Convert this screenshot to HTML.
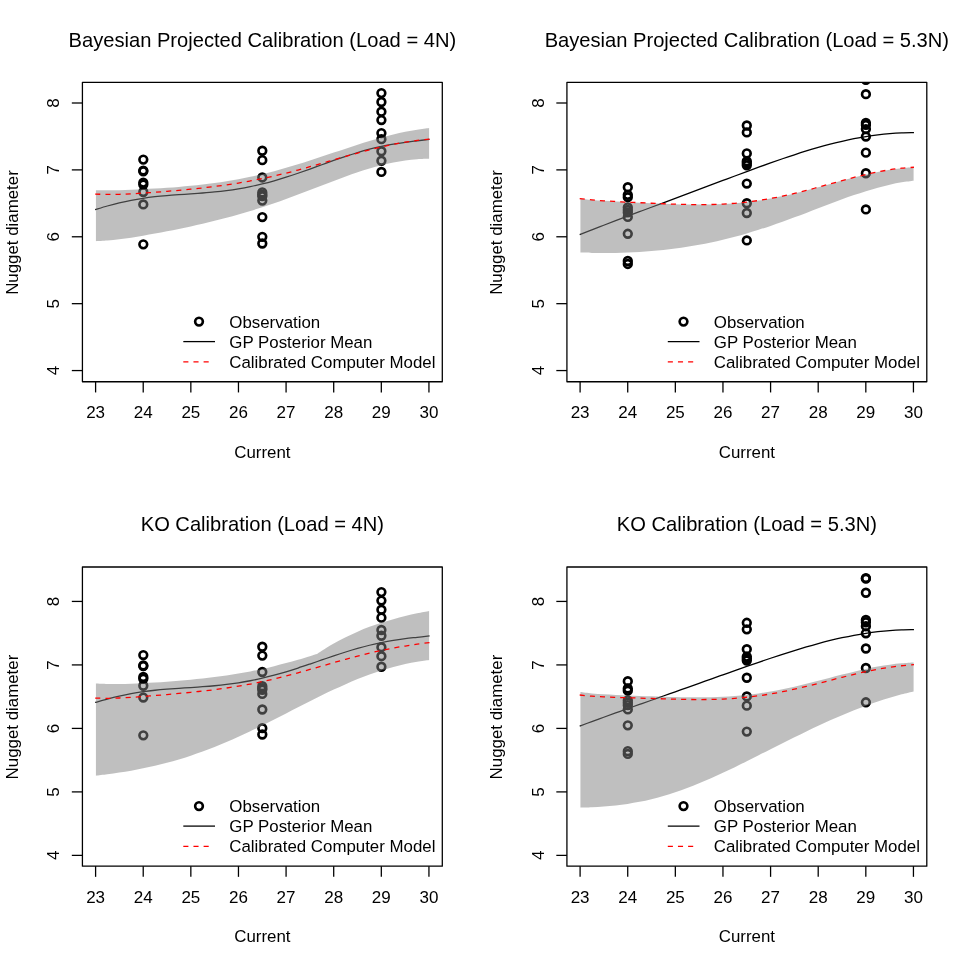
<!DOCTYPE html><html><head><meta charset="utf-8"><title>Calibration plots</title><style>
html,body{margin:0;padding:0;background:#fff;}
svg{display:block;will-change:transform;}
text{font-family:"Liberation Sans",sans-serif;fill:#000;}
.ax{font-size:17.00px;}
.tt{font-size:20.14px;}
.lg{font-size:16.86px;}
.pt{fill:none;stroke:#000;stroke-width:2.65;}
.sl{fill:none;stroke:#000;stroke-width:1.28;}
.dl{fill:none;stroke:#f00;stroke-width:1.28;stroke-dasharray:5.1 5.05;}
.bd{fill:rgba(127,127,127,0.5);stroke:none;}
.bx{fill:none;stroke:#000;stroke-width:1.28;stroke-linejoin:round;}
.tk{stroke:#000;stroke-width:1.28;}
</style></head><body>
<svg width="969" height="969" viewBox="0 0 969 969">
<rect width="969" height="969" fill="#fff"/>
<g transform="translate(0.00,0.00)">
<clipPath id="cp0"><rect x="82.42" y="82.30" width="359.88" height="299.45"/></clipPath>
<g clip-path="url(#cp0)">
<circle cx="143.30" cy="159.60" r="3.85" class="pt"/>
<circle cx="143.30" cy="170.57" r="3.85" class="pt"/>
<circle cx="143.30" cy="171.24" r="3.85" class="pt"/>
<circle cx="143.30" cy="182.61" r="3.85" class="pt"/>
<circle cx="143.30" cy="184.62" r="3.85" class="pt"/>
<circle cx="143.30" cy="191.98" r="3.85" class="pt"/>
<circle cx="143.30" cy="204.42" r="3.85" class="pt"/>
<circle cx="143.30" cy="244.36" r="3.85" class="pt"/>
<circle cx="262.30" cy="150.77" r="3.85" class="pt"/>
<circle cx="262.30" cy="160.13" r="3.85" class="pt"/>
<circle cx="262.30" cy="177.46" r="3.85" class="pt"/>
<circle cx="262.30" cy="192.38" r="3.85" class="pt"/>
<circle cx="262.30" cy="194.65" r="3.85" class="pt"/>
<circle cx="262.30" cy="196.19" r="3.85" class="pt"/>
<circle cx="262.30" cy="200.61" r="3.85" class="pt"/>
<circle cx="262.30" cy="217.06" r="3.85" class="pt"/>
<circle cx="262.30" cy="236.80" r="3.85" class="pt"/>
<circle cx="262.30" cy="243.49" r="3.85" class="pt"/>
<circle cx="381.40" cy="93.10" r="3.85" class="pt"/>
<circle cx="381.40" cy="102.00" r="3.85" class="pt"/>
<circle cx="381.40" cy="111.70" r="3.85" class="pt"/>
<circle cx="381.40" cy="120.06" r="3.85" class="pt"/>
<circle cx="381.40" cy="133.11" r="3.85" class="pt"/>
<circle cx="381.40" cy="139.19" r="3.85" class="pt"/>
<circle cx="381.40" cy="151.23" r="3.85" class="pt"/>
<circle cx="381.40" cy="160.73" r="3.85" class="pt"/>
<circle cx="381.40" cy="171.91" r="3.85" class="pt"/>
<path d="M95.21,209.61 C97.23,209.01 103.31,207.12 107.32,206.00 C111.32,204.88 115.26,203.83 119.24,202.88 C123.21,201.94 127.18,201.07 131.15,200.30 C135.12,199.54 139.10,198.87 143.07,198.27 C147.04,197.67 151.02,197.18 154.99,196.73 C158.96,196.27 162.93,195.91 166.91,195.57 C170.88,195.22 174.85,194.94 178.82,194.66 C182.79,194.37 186.77,194.13 190.74,193.85 C194.71,193.58 198.69,193.32 202.66,193.01 C206.63,192.69 210.60,192.37 214.58,191.97 C218.55,191.58 222.52,191.14 226.49,190.63 C230.47,190.12 234.44,189.55 238.41,188.89 C242.38,188.23 246.36,187.50 250.33,186.69 C254.30,185.87 258.27,184.97 262.25,183.99 C266.22,183.02 270.19,181.95 274.16,180.82 C278.14,179.69 282.11,178.47 286.08,177.21 C290.05,175.95 294.02,174.61 298.00,173.25 C301.97,171.89 305.94,170.47 309.92,169.05 C313.89,167.63 317.86,166.16 321.83,164.73 C325.80,163.29 329.78,161.84 333.75,160.44 C337.72,159.04 341.69,157.65 345.67,156.33 C349.64,155.02 353.61,153.73 357.59,152.55 C361.56,151.36 365.53,150.23 369.50,149.20 C373.48,148.17 377.45,147.23 381.42,146.37 C385.39,145.52 389.36,144.77 393.34,144.09 C397.31,143.41 401.28,142.83 405.25,142.29 C409.23,141.74 413.14,141.30 417.17,140.81 C421.21,140.32 427.42,139.58 429.47,139.33" class="sl"/>
<path d="M95.92,190.20 C97.82,190.23 103.43,190.36 107.32,190.36 C111.20,190.36 115.26,190.29 119.24,190.20 C123.21,190.11 127.18,189.97 131.15,189.82 C135.12,189.66 139.10,189.48 143.07,189.28 C147.04,189.08 151.02,188.85 154.99,188.61 C158.96,188.37 162.93,188.11 166.91,187.83 C170.88,187.54 174.85,187.24 178.82,186.91 C182.79,186.58 186.77,186.23 190.74,185.83 C194.71,185.44 198.69,185.03 202.66,184.56 C206.63,184.10 210.60,183.61 214.58,183.06 C218.55,182.52 222.52,181.93 226.49,181.29 C230.47,180.66 234.44,179.97 238.41,179.23 C242.38,178.49 246.36,177.71 250.33,176.86 C254.30,176.02 258.27,175.12 262.25,174.17 C266.22,173.22 270.19,172.21 274.16,171.16 C278.14,170.11 282.11,169.01 286.08,167.86 C290.05,166.72 294.02,165.53 298.00,164.30 C301.97,163.08 305.94,161.82 309.92,160.54 C313.89,159.25 317.86,157.94 321.83,156.62 C325.80,155.30 329.78,153.95 333.75,152.62 C337.72,151.29 341.69,149.95 345.67,148.64 C349.64,147.32 353.61,146.01 357.59,144.74 C361.56,143.48 365.53,142.23 369.50,141.04 C373.48,139.85 377.45,138.69 381.42,137.61 C385.39,136.52 389.36,135.48 393.34,134.53 C397.31,133.57 401.28,132.68 405.25,131.87 C409.23,131.06 413.20,130.33 417.17,129.68 C421.15,129.03 427.10,128.26 429.09,127.98 L429.09,158.87 C427.10,158.92 421.15,158.95 417.17,159.21 C413.20,159.47 409.23,159.89 405.25,160.43 C401.28,160.97 397.31,161.66 393.34,162.46 C389.36,163.25 385.39,164.18 381.42,165.19 C377.45,166.21 373.48,167.34 369.50,168.53 C365.53,169.72 361.56,171.02 357.59,172.35 C353.61,173.68 349.64,175.09 345.67,176.53 C341.69,177.96 337.72,179.45 333.75,180.95 C329.78,182.44 325.80,183.98 321.83,185.50 C317.86,187.02 313.89,188.56 309.92,190.08 C305.94,191.60 301.97,193.12 298.00,194.61 C294.02,196.10 290.05,197.58 286.08,199.02 C282.11,200.45 278.14,201.87 274.16,203.24 C270.19,204.61 266.22,205.95 262.25,207.24 C258.27,208.54 254.30,209.79 250.33,211.00 C246.36,212.22 242.38,213.39 238.41,214.52 C234.44,215.65 230.47,216.74 226.49,217.79 C222.52,218.84 218.55,219.86 214.58,220.84 C210.60,221.83 206.63,222.77 202.66,223.69 C198.69,224.62 194.71,225.51 190.74,226.38 C186.77,227.24 182.79,228.09 178.82,228.91 C174.85,229.74 170.88,230.54 166.91,231.32 C162.93,232.10 158.96,232.86 154.99,233.60 C151.02,234.34 147.04,235.06 143.07,235.74 C139.10,236.42 135.12,237.08 131.15,237.68 C127.18,238.28 123.21,238.85 119.24,239.33 C115.26,239.81 111.20,240.26 107.32,240.57 C103.43,240.87 97.82,241.07 95.92,241.17 Z" class="bd"/>
<path d="M95.21,194.06 C97.23,194.12 103.31,194.39 107.32,194.43 C111.32,194.47 115.26,194.38 119.24,194.28 C123.21,194.17 127.18,193.99 131.15,193.79 C135.12,193.60 139.10,193.35 143.07,193.10 C147.04,192.84 151.02,192.56 154.99,192.26 C158.96,191.97 162.93,191.66 166.91,191.33 C170.88,191.00 174.85,190.66 178.82,190.30 C182.79,189.94 186.77,189.57 190.74,189.17 C194.71,188.77 198.69,188.36 202.66,187.91 C206.63,187.46 210.60,187.00 214.58,186.49 C218.55,185.98 222.52,185.45 226.49,184.88 C230.47,184.30 234.44,183.69 238.41,183.04 C242.38,182.38 246.36,181.69 250.33,180.95 C254.30,180.21 258.27,179.43 262.25,178.60 C266.22,177.77 270.19,176.90 274.16,175.98 C278.14,175.07 282.11,174.11 286.08,173.11 C290.05,172.12 294.02,171.08 298.00,170.02 C301.97,168.95 305.94,167.85 309.92,166.73 C313.89,165.62 317.86,164.47 321.83,163.32 C325.80,162.18 329.78,161.00 333.75,159.85 C337.72,158.69 341.69,157.52 345.67,156.39 C349.64,155.25 353.61,154.11 357.59,153.02 C361.56,151.93 365.53,150.85 369.50,149.84 C373.48,148.82 377.45,147.84 381.42,146.92 C385.39,146.01 389.36,145.14 393.34,144.35 C397.31,143.56 401.28,142.83 405.25,142.19 C409.23,141.54 413.14,140.97 417.17,140.47 C421.21,139.97 427.42,139.40 429.47,139.19" class="dl"/>
</g>
<rect x="82.42" y="82.30" width="359.88" height="299.45" class="bx"/>
<line x1="95.60" y1="381.75" x2="95.60" y2="392.45" class="tk"/>
<text x="95.60" y="418.00" class="ax" text-anchor="middle">23</text>
<line x1="143.22" y1="381.75" x2="143.22" y2="392.45" class="tk"/>
<text x="143.22" y="418.00" class="ax" text-anchor="middle">24</text>
<line x1="190.84" y1="381.75" x2="190.84" y2="392.45" class="tk"/>
<text x="190.84" y="418.00" class="ax" text-anchor="middle">25</text>
<line x1="238.46" y1="381.75" x2="238.46" y2="392.45" class="tk"/>
<text x="238.46" y="418.00" class="ax" text-anchor="middle">26</text>
<line x1="286.08" y1="381.75" x2="286.08" y2="392.45" class="tk"/>
<text x="286.08" y="418.00" class="ax" text-anchor="middle">27</text>
<line x1="333.70" y1="381.75" x2="333.70" y2="392.45" class="tk"/>
<text x="333.70" y="418.00" class="ax" text-anchor="middle">28</text>
<line x1="381.32" y1="381.75" x2="381.32" y2="392.45" class="tk"/>
<text x="381.32" y="418.00" class="ax" text-anchor="middle">29</text>
<line x1="428.94" y1="381.75" x2="428.94" y2="392.45" class="tk"/>
<text x="428.94" y="418.00" class="ax" text-anchor="middle">30</text>
<line x1="82.42" y1="370.56" x2="71.82" y2="370.56" class="tk"/>
<text transform="translate(59.30,370.56) rotate(-90)" class="ax" text-anchor="middle">4</text>
<line x1="82.42" y1="303.67" x2="71.82" y2="303.67" class="tk"/>
<text transform="translate(59.30,303.67) rotate(-90)" class="ax" text-anchor="middle">5</text>
<line x1="82.42" y1="236.78" x2="71.82" y2="236.78" class="tk"/>
<text transform="translate(59.30,236.78) rotate(-90)" class="ax" text-anchor="middle">6</text>
<line x1="82.42" y1="169.89" x2="71.82" y2="169.89" class="tk"/>
<text transform="translate(59.30,169.89) rotate(-90)" class="ax" text-anchor="middle">7</text>
<line x1="82.42" y1="103.00" x2="71.82" y2="103.00" class="tk"/>
<text transform="translate(59.30,103.00) rotate(-90)" class="ax" text-anchor="middle">8</text>
<text x="262.36" y="457.90" class="lg" text-anchor="middle">Current</text>
<text transform="translate(17.90,232.53) rotate(-90)" class="lg" text-anchor="middle">Nugget diameter</text>
<text x="262.36" y="46.60" class="tt" text-anchor="middle">Bayesian Projected Calibration (Load = 4N)</text>
<circle cx="199" cy="321.6" r="3.85" class="pt"/>
<line x1="183.3" y1="341.6" x2="215.0" y2="341.6" class="sl"/>
<line x1="183.3" y1="361.8" x2="212" y2="361.8" class="dl"/>
<text x="229.3" y="327.70" class="lg">Observation</text>
<text x="229.3" y="347.70" class="lg">GP Posterior Mean</text>
<text x="229.3" y="367.70" class="lg">Calibrated Computer Model</text>
</g>
<g transform="translate(484.50,0.00)">
<clipPath id="cp1"><rect x="82.42" y="82.30" width="359.88" height="299.45"/></clipPath>
<g clip-path="url(#cp1)">
<circle cx="143.30" cy="187.16" r="3.85" class="pt"/>
<circle cx="143.30" cy="194.85" r="3.85" class="pt"/>
<circle cx="143.30" cy="197.20" r="3.85" class="pt"/>
<circle cx="143.30" cy="207.36" r="3.85" class="pt"/>
<circle cx="143.30" cy="209.91" r="3.85" class="pt"/>
<circle cx="143.30" cy="212.45" r="3.85" class="pt"/>
<circle cx="143.30" cy="216.93" r="3.85" class="pt"/>
<circle cx="143.30" cy="233.79" r="3.85" class="pt"/>
<circle cx="143.30" cy="261.02" r="3.85" class="pt"/>
<circle cx="143.30" cy="263.96" r="3.85" class="pt"/>
<circle cx="262.30" cy="125.48" r="3.85" class="pt"/>
<circle cx="262.30" cy="132.44" r="3.85" class="pt"/>
<circle cx="262.30" cy="153.38" r="3.85" class="pt"/>
<circle cx="262.30" cy="161.20" r="3.85" class="pt"/>
<circle cx="262.30" cy="163.21" r="3.85" class="pt"/>
<circle cx="262.30" cy="165.35" r="3.85" class="pt"/>
<circle cx="262.30" cy="183.55" r="3.85" class="pt"/>
<circle cx="262.30" cy="203.28" r="3.85" class="pt"/>
<circle cx="262.30" cy="212.98" r="3.85" class="pt"/>
<circle cx="262.30" cy="240.41" r="3.85" class="pt"/>
<circle cx="381.40" cy="79.45" r="3.85" class="pt"/>
<circle cx="381.40" cy="79.92" r="3.85" class="pt"/>
<circle cx="381.40" cy="94.17" r="3.85" class="pt"/>
<circle cx="381.40" cy="123.00" r="3.85" class="pt"/>
<circle cx="381.40" cy="124.94" r="3.85" class="pt"/>
<circle cx="381.40" cy="129.09" r="3.85" class="pt"/>
<circle cx="381.40" cy="136.58" r="3.85" class="pt"/>
<circle cx="381.40" cy="152.64" r="3.85" class="pt"/>
<circle cx="381.40" cy="173.25" r="3.85" class="pt"/>
<circle cx="381.40" cy="209.44" r="3.85" class="pt"/>
<path d="M95.21,234.54 C97.23,233.75 103.31,231.37 107.32,229.82 C111.32,228.27 115.26,226.75 119.24,225.23 C123.21,223.71 127.18,222.20 131.15,220.69 C135.12,219.19 139.10,217.69 143.07,216.19 C147.04,214.70 151.02,213.21 154.99,211.72 C158.96,210.23 162.93,208.75 166.91,207.26 C170.88,205.78 174.85,204.30 178.82,202.81 C182.79,201.33 186.77,199.84 190.74,198.36 C194.71,196.87 198.69,195.38 202.66,193.89 C206.63,192.40 210.60,190.91 214.58,189.42 C218.55,187.92 222.52,186.43 226.49,184.93 C230.47,183.44 234.44,181.95 238.41,180.46 C242.38,178.96 246.36,177.47 250.33,175.99 C254.30,174.51 258.27,173.03 262.25,171.56 C266.22,170.10 270.19,168.64 274.16,167.19 C278.14,165.75 282.11,164.32 286.08,162.91 C290.05,161.51 294.02,160.12 298.00,158.76 C301.97,157.40 305.94,156.06 309.92,154.77 C313.89,153.47 317.86,152.20 321.83,150.98 C325.80,149.75 329.78,148.57 333.75,147.43 C337.72,146.30 341.69,145.21 345.67,144.18 C349.64,143.15 353.61,142.17 357.59,141.26 C361.56,140.35 365.53,139.49 369.50,138.71 C373.48,137.93 377.45,137.21 381.42,136.57 C385.39,135.93 389.36,135.36 393.34,134.88 C397.31,134.39 401.28,133.97 405.25,133.64 C409.23,133.31 413.14,133.06 417.17,132.88 C421.21,132.71 427.42,132.64 429.47,132.59" class="sl"/>
<path d="M95.92,198.67 C97.82,198.88 103.43,199.56 107.32,199.92 C111.20,200.28 115.26,200.57 119.24,200.84 C123.21,201.11 127.18,201.32 131.15,201.54 C135.12,201.75 139.10,201.94 143.07,202.13 C147.04,202.33 151.02,202.51 154.99,202.69 C158.96,202.88 162.93,203.06 166.91,203.24 C170.88,203.41 174.85,203.59 178.82,203.75 C182.79,203.90 186.77,204.06 190.74,204.18 C194.71,204.31 198.69,204.42 202.66,204.50 C206.63,204.57 210.60,204.62 214.58,204.62 C218.55,204.62 222.52,204.59 226.49,204.50 C230.47,204.40 234.44,204.27 238.41,204.06 C242.38,203.86 246.36,203.60 250.33,203.27 C254.30,202.94 258.27,202.55 262.25,202.09 C266.22,201.63 270.19,201.10 274.16,200.50 C278.14,199.90 282.11,199.23 286.08,198.50 C290.05,197.77 294.02,196.97 298.00,196.12 C301.97,195.27 305.94,194.35 309.92,193.40 C313.89,192.44 317.86,191.43 321.83,190.39 C325.80,189.36 329.78,188.27 333.75,187.19 C337.72,186.10 341.69,184.98 345.67,183.88 C349.64,182.78 353.61,181.66 357.59,180.58 C361.56,179.50 365.53,178.42 369.50,177.40 C373.48,176.38 377.45,175.38 381.42,174.46 C385.39,173.54 389.36,172.67 393.34,171.89 C397.31,171.11 401.28,170.39 405.25,169.78 C409.23,169.16 413.20,168.64 417.17,168.22 C421.15,167.80 427.10,167.44 429.09,167.28 L429.09,180.75 C427.10,181.02 421.15,181.69 417.17,182.35 C413.20,183.01 409.23,183.81 405.25,184.70 C401.28,185.58 397.31,186.59 393.34,187.68 C389.36,188.76 385.39,189.95 381.42,191.18 C377.45,192.42 373.48,193.75 369.50,195.11 C365.53,196.47 361.56,197.89 357.59,199.34 C353.61,200.78 349.64,202.28 345.67,203.77 C341.69,205.27 337.72,206.80 333.75,208.32 C329.78,209.83 325.80,211.37 321.83,212.88 C317.86,214.39 313.89,215.90 309.92,217.37 C305.94,218.85 301.97,220.32 298.00,221.74 C294.02,223.16 290.05,224.56 286.08,225.91 C282.11,227.26 278.14,228.58 274.16,229.84 C270.19,231.11 266.22,232.33 262.25,233.49 C258.27,234.66 254.30,235.78 250.33,236.83 C246.36,237.89 242.38,238.90 238.41,239.85 C234.44,240.79 230.47,241.69 226.49,242.52 C222.52,243.36 218.55,244.14 214.58,244.86 C210.60,245.59 206.63,246.25 202.66,246.87 C198.69,247.49 194.71,248.05 190.74,248.57 C186.77,249.08 182.79,249.54 178.82,249.96 C174.85,250.38 170.88,250.75 166.91,251.07 C162.93,251.40 158.96,251.68 154.99,251.93 C151.02,252.17 147.04,252.37 143.07,252.53 C139.10,252.70 135.12,252.82 131.15,252.90 C127.18,252.99 123.21,253.04 119.24,253.04 C115.26,253.05 111.20,253.01 107.32,252.93 C103.43,252.86 97.82,252.64 95.92,252.58 Z" class="bd"/>
<path d="M95.21,198.58 C97.23,198.80 103.31,199.55 107.32,199.92 C111.32,200.30 115.26,200.57 119.24,200.84 C123.21,201.11 127.18,201.32 131.15,201.54 C135.12,201.75 139.10,201.94 143.07,202.13 C147.04,202.33 151.02,202.51 154.99,202.69 C158.96,202.88 162.93,203.06 166.91,203.24 C170.88,203.41 174.85,203.59 178.82,203.75 C182.79,203.90 186.77,204.06 190.74,204.18 C194.71,204.31 198.69,204.42 202.66,204.50 C206.63,204.57 210.60,204.62 214.58,204.62 C218.55,204.62 222.52,204.59 226.49,204.50 C230.47,204.40 234.44,204.27 238.41,204.06 C242.38,203.86 246.36,203.60 250.33,203.27 C254.30,202.94 258.27,202.55 262.25,202.09 C266.22,201.63 270.19,201.10 274.16,200.50 C278.14,199.90 282.11,199.23 286.08,198.50 C290.05,197.77 294.02,196.97 298.00,196.12 C301.97,195.27 305.94,194.35 309.92,193.40 C313.89,192.44 317.86,191.43 321.83,190.39 C325.80,189.36 329.78,188.27 333.75,187.19 C337.72,186.10 341.69,184.98 345.67,183.88 C349.64,182.78 353.61,181.66 357.59,180.58 C361.56,179.50 365.53,178.42 369.50,177.40 C373.48,176.38 377.45,175.38 381.42,174.46 C385.39,173.54 389.36,172.67 393.34,171.89 C397.31,171.11 401.28,170.39 405.25,169.78 C409.23,169.16 413.14,168.64 417.17,168.22 C421.21,167.80 427.42,167.42 429.47,167.26" class="dl"/>
</g>
<rect x="82.42" y="82.30" width="359.88" height="299.45" class="bx"/>
<line x1="95.60" y1="381.75" x2="95.60" y2="392.45" class="tk"/>
<text x="95.60" y="418.00" class="ax" text-anchor="middle">23</text>
<line x1="143.22" y1="381.75" x2="143.22" y2="392.45" class="tk"/>
<text x="143.22" y="418.00" class="ax" text-anchor="middle">24</text>
<line x1="190.84" y1="381.75" x2="190.84" y2="392.45" class="tk"/>
<text x="190.84" y="418.00" class="ax" text-anchor="middle">25</text>
<line x1="238.46" y1="381.75" x2="238.46" y2="392.45" class="tk"/>
<text x="238.46" y="418.00" class="ax" text-anchor="middle">26</text>
<line x1="286.08" y1="381.75" x2="286.08" y2="392.45" class="tk"/>
<text x="286.08" y="418.00" class="ax" text-anchor="middle">27</text>
<line x1="333.70" y1="381.75" x2="333.70" y2="392.45" class="tk"/>
<text x="333.70" y="418.00" class="ax" text-anchor="middle">28</text>
<line x1="381.32" y1="381.75" x2="381.32" y2="392.45" class="tk"/>
<text x="381.32" y="418.00" class="ax" text-anchor="middle">29</text>
<line x1="428.94" y1="381.75" x2="428.94" y2="392.45" class="tk"/>
<text x="428.94" y="418.00" class="ax" text-anchor="middle">30</text>
<line x1="82.42" y1="370.56" x2="71.82" y2="370.56" class="tk"/>
<text transform="translate(59.30,370.56) rotate(-90)" class="ax" text-anchor="middle">4</text>
<line x1="82.42" y1="303.67" x2="71.82" y2="303.67" class="tk"/>
<text transform="translate(59.30,303.67) rotate(-90)" class="ax" text-anchor="middle">5</text>
<line x1="82.42" y1="236.78" x2="71.82" y2="236.78" class="tk"/>
<text transform="translate(59.30,236.78) rotate(-90)" class="ax" text-anchor="middle">6</text>
<line x1="82.42" y1="169.89" x2="71.82" y2="169.89" class="tk"/>
<text transform="translate(59.30,169.89) rotate(-90)" class="ax" text-anchor="middle">7</text>
<line x1="82.42" y1="103.00" x2="71.82" y2="103.00" class="tk"/>
<text transform="translate(59.30,103.00) rotate(-90)" class="ax" text-anchor="middle">8</text>
<text x="262.36" y="457.90" class="lg" text-anchor="middle">Current</text>
<text transform="translate(17.90,232.53) rotate(-90)" class="lg" text-anchor="middle">Nugget diameter</text>
<text x="262.36" y="46.60" class="tt" text-anchor="middle">Bayesian Projected Calibration (Load = 5.3N)</text>
<circle cx="199" cy="321.6" r="3.85" class="pt"/>
<line x1="183.3" y1="341.6" x2="215.0" y2="341.6" class="sl"/>
<line x1="183.3" y1="361.8" x2="212" y2="361.8" class="dl"/>
<text x="229.3" y="327.70" class="lg">Observation</text>
<text x="229.3" y="347.70" class="lg">GP Posterior Mean</text>
<text x="229.3" y="367.70" class="lg">Calibrated Computer Model</text>
</g>
<g transform="translate(0.00,484.50)">
<clipPath id="cp2"><rect x="82.42" y="82.50" width="359.88" height="299.15"/></clipPath>
<g clip-path="url(#cp2)">
<circle cx="143.30" cy="170.59" r="3.85" class="pt"/>
<circle cx="143.30" cy="180.98" r="3.85" class="pt"/>
<circle cx="143.30" cy="181.62" r="3.85" class="pt"/>
<circle cx="143.30" cy="192.39" r="3.85" class="pt"/>
<circle cx="143.30" cy="194.29" r="3.85" class="pt"/>
<circle cx="143.30" cy="201.26" r="3.85" class="pt"/>
<circle cx="143.30" cy="213.04" r="3.85" class="pt"/>
<circle cx="143.30" cy="250.86" r="3.85" class="pt"/>
<circle cx="262.30" cy="162.23" r="3.85" class="pt"/>
<circle cx="262.30" cy="171.10" r="3.85" class="pt"/>
<circle cx="262.30" cy="187.51" r="3.85" class="pt"/>
<circle cx="262.30" cy="201.64" r="3.85" class="pt"/>
<circle cx="262.30" cy="203.79" r="3.85" class="pt"/>
<circle cx="262.30" cy="205.25" r="3.85" class="pt"/>
<circle cx="262.30" cy="209.43" r="3.85" class="pt"/>
<circle cx="262.30" cy="225.01" r="3.85" class="pt"/>
<circle cx="262.30" cy="243.70" r="3.85" class="pt"/>
<circle cx="262.30" cy="250.03" r="3.85" class="pt"/>
<circle cx="381.40" cy="107.62" r="3.85" class="pt"/>
<circle cx="381.40" cy="116.05" r="3.85" class="pt"/>
<circle cx="381.40" cy="125.24" r="3.85" class="pt"/>
<circle cx="381.40" cy="133.15" r="3.85" class="pt"/>
<circle cx="381.40" cy="145.51" r="3.85" class="pt"/>
<circle cx="381.40" cy="151.27" r="3.85" class="pt"/>
<circle cx="381.40" cy="162.68" r="3.85" class="pt"/>
<circle cx="381.40" cy="171.67" r="3.85" class="pt"/>
<circle cx="381.40" cy="182.25" r="3.85" class="pt"/>
<path d="M95.21,217.95 C97.23,217.38 103.31,215.59 107.32,214.53 C111.32,213.47 115.26,212.48 119.24,211.58 C123.21,210.69 127.18,209.87 131.15,209.14 C135.12,208.41 139.10,207.78 143.07,207.21 C147.04,206.65 151.02,206.18 154.99,205.75 C158.96,205.32 162.93,204.98 166.91,204.65 C170.88,204.33 174.85,204.06 178.82,203.79 C182.79,203.52 186.77,203.29 190.74,203.03 C194.71,202.77 198.69,202.53 202.66,202.23 C206.63,201.93 210.60,201.62 214.58,201.25 C218.55,200.88 222.52,200.47 226.49,199.98 C230.47,199.49 234.44,198.95 238.41,198.33 C242.38,197.71 246.36,197.02 250.33,196.25 C254.30,195.47 258.27,194.62 262.25,193.70 C266.22,192.77 270.19,191.76 274.16,190.69 C278.14,189.62 282.11,188.47 286.08,187.28 C290.05,186.08 294.02,184.81 298.00,183.52 C301.97,182.24 305.94,180.89 309.92,179.54 C313.89,178.20 317.86,176.81 321.83,175.45 C325.80,174.09 329.78,172.71 333.75,171.39 C337.72,170.06 341.69,168.75 345.67,167.50 C349.64,166.25 353.61,165.04 357.59,163.92 C361.56,162.79 365.53,161.72 369.50,160.75 C373.48,159.78 377.45,158.88 381.42,158.07 C385.39,157.27 389.36,156.55 393.34,155.91 C397.31,155.26 401.28,154.72 405.25,154.20 C409.23,153.68 413.14,153.27 417.17,152.80 C421.21,152.34 427.42,151.64 429.47,151.40" class="sl"/>
<path d="M95.92,199.09 C97.82,199.16 103.43,199.44 107.32,199.51 C111.20,199.57 115.26,199.55 119.24,199.50 C123.21,199.45 127.18,199.32 131.15,199.18 C135.12,199.04 139.10,198.85 143.07,198.64 C147.04,198.43 151.02,198.20 154.99,197.95 C158.96,197.69 162.93,197.42 166.91,197.13 C170.88,196.84 174.85,196.53 178.82,196.20 C182.79,195.87 186.77,195.52 190.74,195.15 C194.71,194.77 198.69,194.38 202.66,193.95 C206.63,193.52 210.60,193.06 214.58,192.56 C218.55,192.06 222.52,191.54 226.49,190.96 C230.47,190.38 234.44,189.76 238.41,189.09 C242.38,188.42 246.36,187.71 250.33,186.93 C254.30,186.16 258.27,185.34 262.25,184.46 C266.22,183.59 270.19,182.65 274.16,181.67 C278.14,180.69 282.11,179.65 286.08,178.57 C290.05,177.49 294.02,176.36 298.00,175.21 C301.97,174.05 306.74,172.60 309.92,171.64 C313.09,170.68 315.87,169.82 317.07,169.45 L317.07,169.45 C317.86,168.92 319.05,168.01 321.83,166.27 C324.61,164.53 329.78,161.28 333.75,159.01 C337.72,156.75 341.69,154.65 345.67,152.67 C349.64,150.69 353.61,148.86 357.59,147.15 C361.56,145.43 365.53,143.85 369.50,142.36 C373.48,140.87 377.45,139.51 381.42,138.23 C385.39,136.94 389.36,135.77 393.34,134.66 C397.31,133.55 401.28,132.53 405.25,131.56 C409.23,130.60 413.20,129.71 417.17,128.86 C421.15,128.01 427.10,126.86 429.09,126.46 L429.09,175.44 C427.10,175.73 421.15,176.48 417.17,177.15 C413.20,177.81 409.23,178.58 405.25,179.45 C401.28,180.33 397.31,181.30 393.34,182.38 C389.36,183.45 385.39,184.64 381.42,185.91 C377.45,187.18 373.48,188.55 369.50,190.00 C365.53,191.45 361.56,193.00 357.59,194.61 C353.61,196.22 349.64,197.92 345.67,199.67 C341.69,201.42 337.72,203.25 333.75,205.11 C329.78,206.97 325.80,208.89 321.83,210.84 C317.86,212.79 313.89,214.78 309.92,216.78 C305.94,218.79 301.97,220.82 298.00,222.85 C294.02,224.88 290.05,226.93 286.08,228.96 C282.11,231.00 278.14,233.03 274.16,235.04 C270.19,237.04 266.22,239.04 262.25,241.00 C258.27,242.95 254.30,244.89 250.33,246.77 C246.36,248.66 242.38,250.51 238.41,252.31 C234.44,254.11 230.47,255.86 226.49,257.55 C222.52,259.24 218.55,260.88 214.58,262.46 C210.60,264.03 206.63,265.55 202.66,267.00 C198.69,268.45 194.71,269.83 190.74,271.15 C186.77,272.47 182.79,273.73 178.82,274.91 C174.85,276.10 170.88,277.22 166.91,278.28 C162.93,279.33 158.96,280.32 154.99,281.25 C151.02,282.18 147.04,283.05 143.07,283.86 C139.10,284.68 135.12,285.43 131.15,286.13 C127.18,286.84 123.21,287.48 119.24,288.09 C115.26,288.70 111.20,289.26 107.32,289.78 C103.43,290.29 97.82,290.94 95.92,291.17 Z" class="bd"/>
<path d="M95.21,213.60 C97.23,213.64 103.31,213.85 107.32,213.83 C111.32,213.81 115.26,213.66 119.24,213.50 C123.21,213.33 127.18,213.09 131.15,212.83 C135.12,212.58 139.10,212.29 143.07,211.99 C147.04,211.69 151.02,211.37 154.99,211.04 C158.96,210.71 162.93,210.38 166.91,210.03 C170.88,209.69 174.85,209.34 178.82,208.97 C182.79,208.60 186.77,208.22 190.74,207.82 C194.71,207.42 198.69,207.01 202.66,206.56 C206.63,206.12 210.60,205.65 214.58,205.14 C218.55,204.64 222.52,204.10 226.49,203.52 C230.47,202.94 234.44,202.32 238.41,201.65 C242.38,200.99 246.36,200.28 250.33,199.52 C254.30,198.76 258.27,197.96 262.25,197.10 C266.22,196.25 270.19,195.35 274.16,194.41 C278.14,193.47 282.11,192.48 286.08,191.46 C290.05,190.44 294.02,189.38 298.00,188.30 C301.97,187.22 305.94,186.10 309.92,184.97 C313.89,183.85 317.86,182.70 321.83,181.55 C325.80,180.41 329.78,179.26 333.75,178.12 C337.72,176.99 341.69,175.86 345.67,174.77 C349.64,173.67 353.61,172.59 357.59,171.56 C361.56,170.53 365.53,169.53 369.50,168.59 C373.48,167.65 377.45,166.75 381.42,165.91 C385.39,165.07 389.36,164.28 393.34,163.55 C397.31,162.82 401.28,162.15 405.25,161.51 C409.23,160.87 413.14,160.31 417.17,159.73 C421.21,159.16 427.42,158.33 429.47,158.05" class="dl"/>
</g>
<rect x="82.42" y="82.50" width="359.88" height="299.15" class="bx"/>
<line x1="95.60" y1="381.65" x2="95.60" y2="392.35" class="tk"/>
<text x="95.60" y="418.00" class="ax" text-anchor="middle">23</text>
<line x1="143.22" y1="381.65" x2="143.22" y2="392.35" class="tk"/>
<text x="143.22" y="418.00" class="ax" text-anchor="middle">24</text>
<line x1="190.84" y1="381.65" x2="190.84" y2="392.35" class="tk"/>
<text x="190.84" y="418.00" class="ax" text-anchor="middle">25</text>
<line x1="238.46" y1="381.65" x2="238.46" y2="392.35" class="tk"/>
<text x="238.46" y="418.00" class="ax" text-anchor="middle">26</text>
<line x1="286.08" y1="381.65" x2="286.08" y2="392.35" class="tk"/>
<text x="286.08" y="418.00" class="ax" text-anchor="middle">27</text>
<line x1="333.70" y1="381.65" x2="333.70" y2="392.35" class="tk"/>
<text x="333.70" y="418.00" class="ax" text-anchor="middle">28</text>
<line x1="381.32" y1="381.65" x2="381.32" y2="392.35" class="tk"/>
<text x="381.32" y="418.00" class="ax" text-anchor="middle">29</text>
<line x1="428.94" y1="381.65" x2="428.94" y2="392.35" class="tk"/>
<text x="428.94" y="418.00" class="ax" text-anchor="middle">30</text>
<line x1="82.42" y1="370.89" x2="71.82" y2="370.89" class="tk"/>
<text transform="translate(59.30,370.89) rotate(-90)" class="ax" text-anchor="middle">4</text>
<line x1="82.42" y1="307.40" x2="71.82" y2="307.40" class="tk"/>
<text transform="translate(59.30,307.40) rotate(-90)" class="ax" text-anchor="middle">5</text>
<line x1="82.42" y1="243.91" x2="71.82" y2="243.91" class="tk"/>
<text transform="translate(59.30,243.91) rotate(-90)" class="ax" text-anchor="middle">6</text>
<line x1="82.42" y1="180.42" x2="71.82" y2="180.42" class="tk"/>
<text transform="translate(59.30,180.42) rotate(-90)" class="ax" text-anchor="middle">7</text>
<line x1="82.42" y1="116.93" x2="71.82" y2="116.93" class="tk"/>
<text transform="translate(59.30,116.93) rotate(-90)" class="ax" text-anchor="middle">8</text>
<text x="262.36" y="457.90" class="lg" text-anchor="middle">Current</text>
<text transform="translate(17.90,232.57) rotate(-90)" class="lg" text-anchor="middle">Nugget diameter</text>
<text x="262.36" y="46.60" class="tt" text-anchor="middle">KO Calibration (Load = 4N)</text>
<circle cx="199" cy="321.6" r="3.85" class="pt"/>
<line x1="183.3" y1="341.6" x2="215.0" y2="341.6" class="sl"/>
<line x1="183.3" y1="361.8" x2="212" y2="361.8" class="dl"/>
<text x="229.3" y="327.70" class="lg">Observation</text>
<text x="229.3" y="347.70" class="lg">GP Posterior Mean</text>
<text x="229.3" y="367.70" class="lg">Calibrated Computer Model</text>
</g>
<g transform="translate(484.50,484.50)">
<clipPath id="cp3"><rect x="82.42" y="82.50" width="359.88" height="299.15"/></clipPath>
<g clip-path="url(#cp3)">
<circle cx="143.30" cy="196.69" r="3.85" class="pt"/>
<circle cx="143.30" cy="203.98" r="3.85" class="pt"/>
<circle cx="143.30" cy="206.20" r="3.85" class="pt"/>
<circle cx="143.30" cy="215.83" r="3.85" class="pt"/>
<circle cx="143.30" cy="218.23" r="3.85" class="pt"/>
<circle cx="143.30" cy="220.64" r="3.85" class="pt"/>
<circle cx="143.30" cy="224.89" r="3.85" class="pt"/>
<circle cx="143.30" cy="240.85" r="3.85" class="pt"/>
<circle cx="143.30" cy="266.63" r="3.85" class="pt"/>
<circle cx="143.30" cy="269.42" r="3.85" class="pt"/>
<circle cx="262.30" cy="138.29" r="3.85" class="pt"/>
<circle cx="262.30" cy="144.87" r="3.85" class="pt"/>
<circle cx="262.30" cy="164.70" r="3.85" class="pt"/>
<circle cx="262.30" cy="172.11" r="3.85" class="pt"/>
<circle cx="262.30" cy="174.02" r="3.85" class="pt"/>
<circle cx="262.30" cy="176.04" r="3.85" class="pt"/>
<circle cx="262.30" cy="193.27" r="3.85" class="pt"/>
<circle cx="262.30" cy="211.96" r="3.85" class="pt"/>
<circle cx="262.30" cy="221.15" r="3.85" class="pt"/>
<circle cx="262.30" cy="247.12" r="3.85" class="pt"/>
<circle cx="381.40" cy="93.56" r="3.85" class="pt"/>
<circle cx="381.40" cy="94.19" r="3.85" class="pt"/>
<circle cx="381.40" cy="108.26" r="3.85" class="pt"/>
<circle cx="381.40" cy="135.50" r="3.85" class="pt"/>
<circle cx="381.40" cy="137.78" r="3.85" class="pt"/>
<circle cx="381.40" cy="141.71" r="3.85" class="pt"/>
<circle cx="381.40" cy="148.80" r="3.85" class="pt"/>
<circle cx="381.40" cy="164.01" r="3.85" class="pt"/>
<circle cx="381.40" cy="183.52" r="3.85" class="pt"/>
<circle cx="381.40" cy="217.79" r="3.85" class="pt"/>
<path d="M95.21,241.56 C97.23,240.82 103.31,238.56 107.32,237.09 C111.32,235.62 115.26,234.19 119.24,232.75 C123.21,231.30 127.18,229.87 131.15,228.45 C135.12,227.02 139.10,225.60 143.07,224.19 C147.04,222.77 151.02,221.36 154.99,219.95 C158.96,218.54 162.93,217.14 166.91,215.73 C170.88,214.32 174.85,212.92 178.82,211.51 C182.79,210.11 186.77,208.70 190.74,207.30 C194.71,205.89 198.69,204.48 202.66,203.07 C206.63,201.66 210.60,200.24 214.58,198.83 C218.55,197.42 222.52,196.00 226.49,194.59 C230.47,193.17 234.44,191.76 238.41,190.34 C242.38,188.93 246.36,187.52 250.33,186.12 C254.30,184.71 258.27,183.31 262.25,181.92 C266.22,180.54 270.19,179.15 274.16,177.79 C278.14,176.42 282.11,175.07 286.08,173.74 C290.05,172.40 294.02,171.09 298.00,169.80 C301.97,168.52 305.94,167.25 309.92,166.02 C313.89,164.79 317.86,163.59 321.83,162.43 C325.80,161.27 329.78,160.15 333.75,159.08 C337.72,158.00 341.69,156.97 345.67,155.99 C349.64,155.02 353.61,154.09 357.59,153.23 C361.56,152.37 365.53,151.56 369.50,150.82 C373.48,150.08 377.45,149.40 381.42,148.79 C385.39,148.19 389.36,147.65 393.34,147.18 C397.31,146.72 401.28,146.33 405.25,146.02 C409.23,145.70 413.14,145.46 417.17,145.30 C421.21,145.13 427.42,145.07 429.47,145.02" class="sl"/>
<path d="M95.92,207.46 C97.82,207.69 103.43,208.48 107.32,208.88 C111.20,209.28 115.26,209.57 119.24,209.84 C123.21,210.11 127.18,210.30 131.15,210.48 C135.12,210.67 139.10,210.82 143.07,210.97 C147.04,211.13 151.02,211.26 154.99,211.40 C158.96,211.54 162.93,211.67 166.91,211.80 C170.88,211.93 174.85,212.07 178.82,212.18 C182.79,212.30 186.77,212.42 190.74,212.51 C194.71,212.61 198.69,212.70 202.66,212.75 C206.63,212.80 210.60,212.83 214.58,212.82 C218.55,212.81 222.52,212.77 226.49,212.68 C230.47,212.58 234.44,212.45 238.41,212.26 C242.38,212.06 246.36,211.82 250.33,211.50 C254.30,211.19 258.27,210.82 262.25,210.39 C266.22,209.95 270.19,209.45 274.16,208.89 C278.14,208.32 282.11,207.69 286.08,207.00 C290.05,206.31 294.02,205.55 298.00,204.75 C301.97,203.94 305.94,203.07 309.92,202.17 C313.89,201.27 317.86,200.31 321.83,199.33 C325.80,198.35 329.78,197.33 333.75,196.30 C337.72,195.28 341.69,194.22 345.67,193.19 C349.64,192.16 353.61,191.11 357.59,190.10 C361.56,189.09 365.53,188.09 369.50,187.14 C373.48,186.20 377.45,185.28 381.42,184.44 C385.39,183.60 389.36,182.80 393.34,182.10 C397.31,181.39 401.28,180.75 405.25,180.22 C409.23,179.68 413.20,179.22 417.17,178.87 C421.15,178.52 427.10,178.24 429.09,178.11 L429.09,206.91 C427.10,207.40 421.15,208.80 417.17,209.85 C413.20,210.91 409.23,212.04 405.25,213.24 C401.28,214.44 397.31,215.71 393.34,217.04 C389.36,218.38 385.39,219.78 381.42,221.23 C377.45,222.68 373.48,224.20 369.50,225.77 C365.53,227.34 361.56,228.97 357.59,230.64 C353.61,232.31 349.64,234.04 345.67,235.80 C341.69,237.57 337.72,239.38 333.75,241.23 C329.78,243.07 325.80,244.96 321.83,246.88 C317.86,248.79 313.89,250.74 309.92,252.71 C305.94,254.67 301.97,256.67 298.00,258.67 C294.02,260.67 290.05,262.69 286.08,264.70 C282.11,266.71 278.14,268.74 274.16,270.75 C270.19,272.76 266.22,274.77 262.25,276.75 C258.27,278.73 254.30,280.70 250.33,282.63 C246.36,284.56 242.38,286.46 238.41,288.32 C234.44,290.17 230.47,291.99 226.49,293.74 C222.52,295.50 218.55,297.21 214.58,298.84 C210.60,300.47 206.63,302.05 202.66,303.54 C198.69,305.03 194.71,306.45 190.74,307.78 C186.77,309.10 182.79,310.35 178.82,311.51 C174.85,312.66 170.88,313.73 166.91,314.70 C162.93,315.67 158.96,316.54 154.99,317.33 C151.02,318.11 147.04,318.79 143.07,319.39 C139.10,319.99 135.12,320.50 131.15,320.93 C127.18,321.36 123.21,321.70 119.24,321.99 C115.26,322.28 111.20,322.49 107.32,322.67 C103.43,322.85 97.82,323.02 95.92,323.09 Z" class="bd"/>
<path d="M95.21,210.51 C97.23,210.71 103.31,211.37 107.32,211.68 C111.32,211.99 115.26,212.19 119.24,212.38 C123.21,212.58 127.18,212.71 131.15,212.85 C135.12,212.99 139.10,213.10 143.07,213.22 C147.04,213.35 151.02,213.46 154.99,213.58 C158.96,213.70 162.93,213.83 166.91,213.96 C170.88,214.08 174.85,214.21 178.82,214.33 C182.79,214.45 186.77,214.58 190.74,214.68 C194.71,214.78 198.69,214.87 202.66,214.93 C206.63,214.99 210.60,215.04 214.58,215.04 C218.55,215.04 222.52,215.01 226.49,214.93 C230.47,214.84 234.44,214.72 238.41,214.54 C242.38,214.35 246.36,214.12 250.33,213.82 C254.30,213.52 258.27,213.16 262.25,212.74 C266.22,212.32 270.19,211.83 274.16,211.27 C278.14,210.72 282.11,210.10 286.08,209.43 C290.05,208.75 294.02,208.01 298.00,207.21 C301.97,206.42 305.94,205.57 309.92,204.68 C313.89,203.79 317.86,202.85 321.83,201.89 C325.80,200.92 329.78,199.92 333.75,198.91 C337.72,197.90 341.69,196.86 345.67,195.84 C349.64,194.82 353.61,193.79 357.59,192.79 C361.56,191.79 365.53,190.79 369.50,189.85 C373.48,188.91 377.45,187.99 381.42,187.14 C385.39,186.29 389.36,185.48 393.34,184.76 C397.31,184.03 401.28,183.36 405.25,182.77 C409.23,182.19 413.14,181.68 417.17,181.24 C421.21,180.81 427.42,180.34 429.47,180.16" class="dl"/>
</g>
<rect x="82.42" y="82.50" width="359.88" height="299.15" class="bx"/>
<line x1="95.60" y1="381.65" x2="95.60" y2="392.35" class="tk"/>
<text x="95.60" y="418.00" class="ax" text-anchor="middle">23</text>
<line x1="143.22" y1="381.65" x2="143.22" y2="392.35" class="tk"/>
<text x="143.22" y="418.00" class="ax" text-anchor="middle">24</text>
<line x1="190.84" y1="381.65" x2="190.84" y2="392.35" class="tk"/>
<text x="190.84" y="418.00" class="ax" text-anchor="middle">25</text>
<line x1="238.46" y1="381.65" x2="238.46" y2="392.35" class="tk"/>
<text x="238.46" y="418.00" class="ax" text-anchor="middle">26</text>
<line x1="286.08" y1="381.65" x2="286.08" y2="392.35" class="tk"/>
<text x="286.08" y="418.00" class="ax" text-anchor="middle">27</text>
<line x1="333.70" y1="381.65" x2="333.70" y2="392.35" class="tk"/>
<text x="333.70" y="418.00" class="ax" text-anchor="middle">28</text>
<line x1="381.32" y1="381.65" x2="381.32" y2="392.35" class="tk"/>
<text x="381.32" y="418.00" class="ax" text-anchor="middle">29</text>
<line x1="428.94" y1="381.65" x2="428.94" y2="392.35" class="tk"/>
<text x="428.94" y="418.00" class="ax" text-anchor="middle">30</text>
<line x1="82.42" y1="370.89" x2="71.82" y2="370.89" class="tk"/>
<text transform="translate(59.30,370.89) rotate(-90)" class="ax" text-anchor="middle">4</text>
<line x1="82.42" y1="307.40" x2="71.82" y2="307.40" class="tk"/>
<text transform="translate(59.30,307.40) rotate(-90)" class="ax" text-anchor="middle">5</text>
<line x1="82.42" y1="243.91" x2="71.82" y2="243.91" class="tk"/>
<text transform="translate(59.30,243.91) rotate(-90)" class="ax" text-anchor="middle">6</text>
<line x1="82.42" y1="180.42" x2="71.82" y2="180.42" class="tk"/>
<text transform="translate(59.30,180.42) rotate(-90)" class="ax" text-anchor="middle">7</text>
<line x1="82.42" y1="116.93" x2="71.82" y2="116.93" class="tk"/>
<text transform="translate(59.30,116.93) rotate(-90)" class="ax" text-anchor="middle">8</text>
<text x="262.36" y="457.90" class="lg" text-anchor="middle">Current</text>
<text transform="translate(17.90,232.57) rotate(-90)" class="lg" text-anchor="middle">Nugget diameter</text>
<text x="262.36" y="46.60" class="tt" text-anchor="middle">KO Calibration (Load = 5.3N)</text>
<circle cx="199" cy="321.6" r="3.85" class="pt"/>
<line x1="183.3" y1="341.6" x2="215.0" y2="341.6" class="sl"/>
<line x1="183.3" y1="361.8" x2="212" y2="361.8" class="dl"/>
<text x="229.3" y="327.70" class="lg">Observation</text>
<text x="229.3" y="347.70" class="lg">GP Posterior Mean</text>
<text x="229.3" y="367.70" class="lg">Calibrated Computer Model</text>
</g>
</svg></body></html>
